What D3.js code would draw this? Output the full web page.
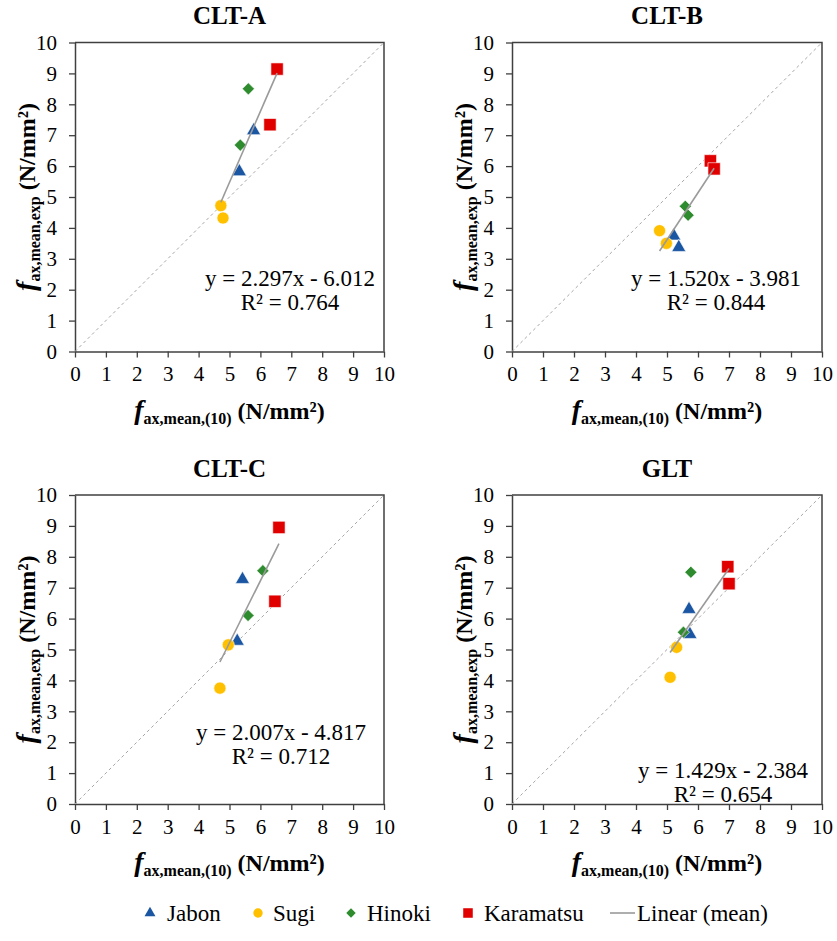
<!DOCTYPE html>
<html><head><meta charset="utf-8">
<script src="https://cdn.jsdelivr.net/npm/d3@7"></script>
<style>body{margin:0;background:#fff} svg{display:block}</style>
</head><body><svg id="c" width="837" height="941"></svg>
<script>
// ---------- data ----------
const ticks = [0,1,2,3,4,5,6,7,8,9,10];
const panelTitles = ["CLT-A","CLT-B","CLT-C","GLT"];
const speciesNames = ["Jabon","Sugi","Hinoki","Karamatsu"];
// [x, y] pairs, one list per panel (CLT-A, CLT-B, CLT-C, GLT)
const jabon = [[[5.32,5.82],[5.78,7.15]], [[5.22,3.74],[5.38,3.37]], [[5.25,5.27],[5.42,7.27]], [[5.71,6.30],[5.74,5.49]]];
const sugi = [[[4.72,4.72],[4.79,4.32]], [[4.76,3.91],[4.98,3.50]], [[4.69,3.75],[4.96,5.15]], [[5.10,4.10],[5.31,5.07]]];
const hinoki = [[[5.35,6.68],[5.61,8.50]], [[5.59,4.70],[5.68,4.41]], [[5.60,6.10],[6.08,7.55]], [[5.53,5.56],[5.77,7.50]]];
const karamatsu = [[[6.31,7.34],[6.54,9.14]], [[6.40,6.17],[6.52,5.91]], [[6.47,6.56],[6.60,8.95]], [[6.96,7.68],[7.00,7.13]]];
const fitSlope = [2.297, 1.520, 2.007, 1.429];
const fitIntercept = [-6.012, -3.981, -4.817, -2.384];
const fitR2 = [0.764, 0.844, 0.712, 0.654];

// ---------- layout / style ----------
const panelBox = [
  {left:75, top:42.5, w:309, h:309, eqX:290, eqY:286},
  {left:512, top:42.5, w:310, h:309, eqX:716, eqY:286},
  {left:75, top:495, w:309, h:309, eqX:281, eqY:740},
  {left:512, top:495, w:310, h:309, eqX:723, eqY:778}
];
const FONT = "'Liberation Serif','Times New Roman',serif";
const colors = {Jabon:"#1b56a3", Sugi:"#ffc000", Hinoki:"#2e8b2e", Karamatsu:"#e00000"};
const axisColor = "#404040";
const seriesData = {Jabon:jabon, Sugi:sugi, Hinoki:hinoki, Karamatsu:karamatsu};

function markerPath(name, scale){
  scale = scale || 1;
  if(name==="Jabon") return d3.symbol().type(d3.symbolTriangle).size(86*scale)();
  if(name==="Sugi") return d3.symbol().type(d3.symbolCircle).size(115*scale)();
  if(name==="Hinoki") return d3.symbol().type(d3.symbolSquare).size(74*scale)();
  return d3.symbol().type(d3.symbolSquare).size(152*scale)();
}

const svg = d3.select("#c");
svg.append("rect").attr("width",837).attr("height",941).attr("fill","#fff");

panelBox.forEach((b, i) => {
  const x = d3.scaleLinear().domain([0,10]).range([b.left, b.left+b.w]);
  const y = d3.scaleLinear().domain([0,10]).range([b.top+b.h, b.top]);
  const g = svg.append("g");

  // title
  g.append("text").attr("x", b.left + b.w/2).attr("y", b.top - 18.5)
    .attr("text-anchor","middle").attr("font-family",FONT).attr("font-weight","bold")
    .attr("font-size",25).attr("fill","#000").text(panelTitles[i]);

  // top & right border
  g.append("path").attr("d",`M${x(0)},${y(10)}H${x(10)}V${y(0)}`)
    .attr("fill","none").attr("stroke",axisColor).attr("stroke-width",1.5);

  // axes
  const xa = g.append("g").attr("transform",`translate(0,${y(0)})`)
    .call(d3.axisBottom(x).tickValues(ticks).tickSize(6).tickSizeOuter(0).tickPadding(9));
  const ya = g.append("g").attr("transform",`translate(${x(0)},0)`)
    .call(d3.axisLeft(y).tickValues(ticks).tickSize(6).tickSizeOuter(0).tickPadding(12));
  [xa, ya].forEach(a => {
    a.select(".domain").attr("stroke",axisColor).attr("stroke-width",1.5);
    a.selectAll(".tick line").attr("stroke",axisColor).attr("stroke-width",1.3);
    a.selectAll(".tick text").attr("font-family",FONT).attr("font-size",21).attr("fill","#000");
  });

  // diagonal 1:1 line
  g.append("line").attr("x1",x(0)).attr("y1",y(0)).attr("x2",x(10)).attr("y2",y(10))
    .attr("stroke","#a6a6a6").attr("stroke-width",1).attr("stroke-dasharray","3,3");

  // markers
  const allPts = [];
  speciesNames.forEach(name => {
    const pts = seriesData[name][i];
    pts.forEach(p => allPts.push(p));
    g.selectAll(null).data(pts).enter().append("path")
      .attr("d", markerPath(name))
      .attr("transform", d => `translate(${x(d[0])},${y(d[1])})` + (name==="Hinoki" ? " rotate(45)" : ""))
      .attr("fill", colors[name]).attr("stroke","#fff").attr("stroke-width",0.6);
  });

  // linear fit over data range
  const xmin = d3.min(allPts, d => d[0]), xmax = d3.max(allPts, d => d[0]);
  const fit = v => fitSlope[i]*v + fitIntercept[i];
  g.append("line").attr("x1",x(xmin)).attr("y1",y(fit(xmin))).attr("x2",x(xmax)).attr("y2",y(fit(xmax)))
    .attr("stroke","#9a9a9a").attr("stroke-width",1.6);

  // equation
  const sign = fitIntercept[i] < 0 ? "-" : "+";
  g.append("text").attr("x",b.eqX).attr("y",b.eqY).attr("text-anchor","middle")
    .attr("font-family",FONT).attr("font-size",23).attr("fill","#000")
    .text(`y = ${fitSlope[i].toFixed(3)}x ${sign} ${Math.abs(fitIntercept[i]).toFixed(3)}`);
  g.append("text").attr("x",b.eqX).attr("y",b.eqY+24).attr("text-anchor","middle")
    .attr("font-family",FONT).attr("font-size",23).attr("fill","#000")
    .text(`R² = ${fitR2[i].toFixed(3)}`);

  // x axis title
  const xt = g.append("text").attr("x", b.left + b.w/2).attr("y", y(0) + 67)
    .attr("text-anchor","middle").attr("font-family",FONT).attr("font-weight","bold").attr("fill","#000");
  xt.append("tspan").attr("font-style","italic").attr("font-size",28).text("f");
  xt.append("tspan").attr("font-size",16).attr("dy",5).text("ax,mean,(10)");
  xt.append("tspan").attr("font-size",24).attr("dy",-5).text(" (N/mm²)");

  // y axis title
  const yt = g.append("text").attr("transform",`translate(${b.left - 40},${b.top + b.h/2}) rotate(-90)`)
    .attr("text-anchor","middle").attr("font-family",FONT).attr("font-weight","bold").attr("fill","#000");
  yt.append("tspan").attr("font-style","italic").attr("font-size",28).text("f");
  yt.append("tspan").attr("font-size",16).attr("dy",5).text("ax,mean,exp");
  yt.append("tspan").attr("font-size",24).attr("dy",-5).text(" (N/mm²)");
});

// ---------- legend ----------
const legendY = 913;
const legendItems = [
  {name:"Jabon", mx:150, tx:167},
  {name:"Sugi", mx:258, tx:273},
  {name:"Hinoki", mx:351, tx:367},
  {name:"Karamatsu", mx:468, tx:484},
  {name:"Linear (mean)", mx:null, tx:637}
];
const lg = svg.append("g");
legendItems.forEach(it => {
  if(it.mx !== null){
    lg.append("path").attr("d", markerPath(it.name, 0.6))
      .attr("transform",`translate(${it.mx},${legendY})` + (it.name==="Hinoki" ? " rotate(45)" : ""))
      .attr("fill", colors[it.name]);
  } else {
    lg.append("line").attr("x1",610).attr("x2",635).attr("y1",legendY).attr("y2",legendY)
      .attr("stroke","#9a9a9a").attr("stroke-width",1.6);
  }
  lg.append("text").attr("x",it.tx).attr("y",legendY+8).attr("font-family",FONT)
    .attr("font-size",23).attr("fill","#000").text(it.name);
});
</script></body></html>
